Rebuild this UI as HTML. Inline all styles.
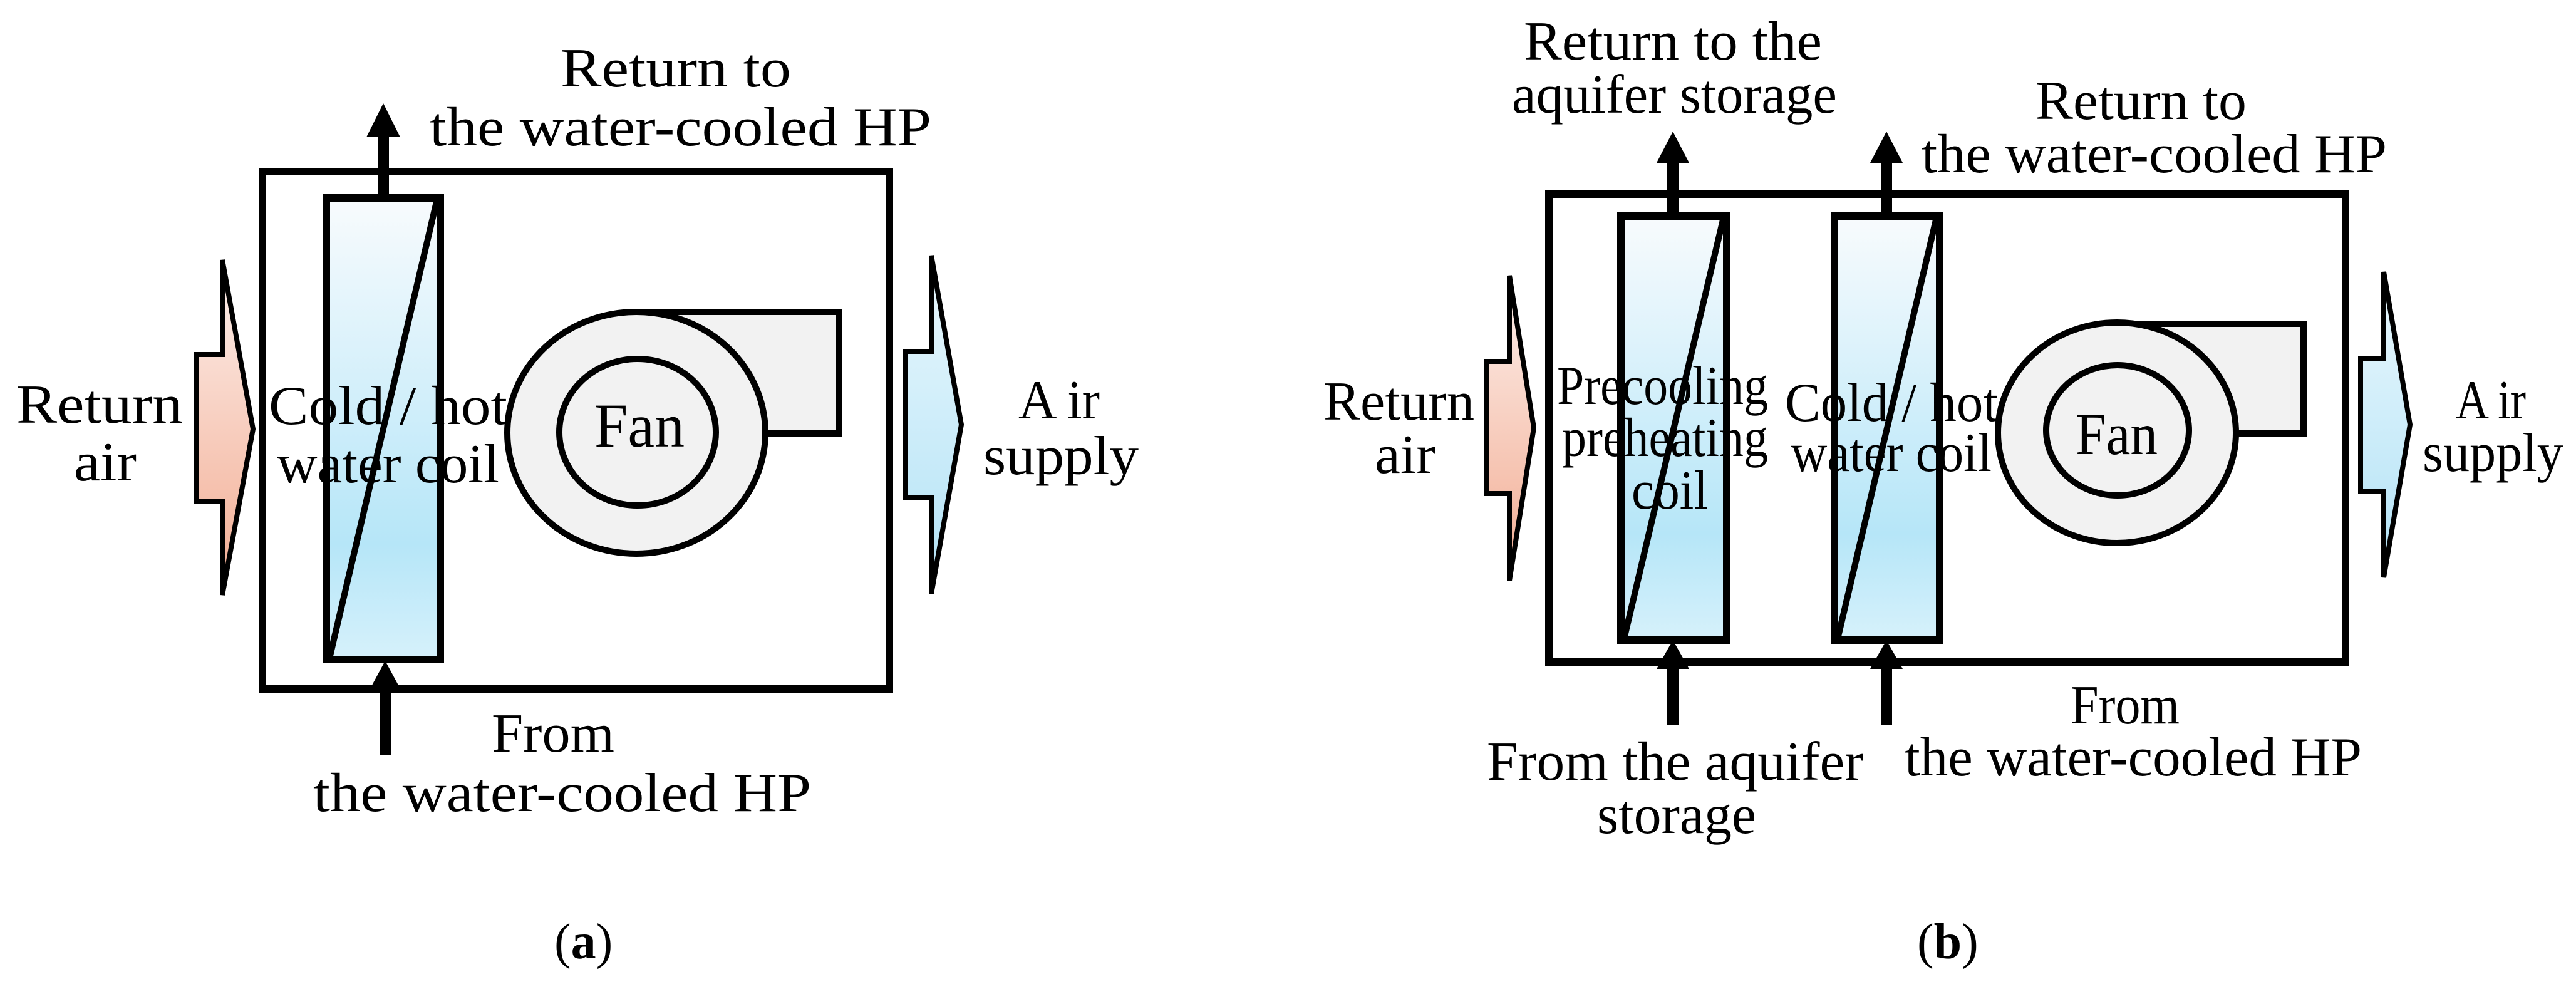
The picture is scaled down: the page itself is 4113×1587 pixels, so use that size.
<!DOCTYPE html>
<html><head><meta charset="utf-8"><style>html,body{margin:0;padding:0;background:#fff}svg{display:block}</style></head>
<body>
<svg width="4113" height="1587" viewBox="0 0 4113 1587" xmlns="http://www.w3.org/2000/svg" font-family="'Liberation Serif', serif" font-size="88" fill="#000">
<defs>
<linearGradient id="coil" x1="0" y1="0" x2="0" y2="1">
<stop offset="0" stop-color="#f8fbfd"/><stop offset="0.75" stop-color="#b6e6f8"/><stop offset="1" stop-color="#d6f1fb"/></linearGradient>
<linearGradient id="red" x1="0" y1="0" x2="0" y2="1">
<stop offset="0" stop-color="#fdf0ec"/><stop offset="1" stop-color="#f2ac92"/></linearGradient>
<linearGradient id="blue" x1="0" y1="0" x2="0" y2="1">
<stop offset="0" stop-color="#eaf8fd"/><stop offset="1" stop-color="#b2e2f6"/></linearGradient>
</defs>

<!-- ===== (a) ===== -->
<rect x="419" y="274" width="1001" height="826" fill="none" stroke="#000" stroke-width="12"/>
<rect x="521" y="316" width="182" height="737" fill="url(#coil)" stroke="#000" stroke-width="12"/>
<line x1="697" y1="322" x2="527" y2="1047" stroke="#000" stroke-width="10"/>
<line x1="612" y1="316" x2="612" y2="210" stroke="#000" stroke-width="18"/>
<polygon points="612,165 585,219 639,219"/>
<line x1="615" y1="1205" x2="615" y2="1095" stroke="#000" stroke-width="18"/>
<polygon points="615,1055 588,1105 642,1105"/>
<rect x="1016" y="498" width="324" height="194" fill="#f2f2f2" stroke="#000" stroke-width="10"/>
<ellipse cx="1016" cy="691" rx="206" ry="193" fill="#f2f2f2" stroke="#000" stroke-width="10"/>
<ellipse cx="1018" cy="690" rx="125" ry="117" fill="#f2f2f2" stroke="#000" stroke-width="10"/>
<polygon points="313,566 355,566 355,415 404,685 355,950 355,800 313,800" fill="url(#red)" stroke="#000" stroke-width="8"/>
<polygon points="1446,561 1487,561 1487,408 1535,678 1487,948 1487,795 1446,795" fill="url(#blue)" stroke="#000" stroke-width="8"/>

<text x="895" y="138" textLength="368" lengthAdjust="spacingAndGlyphs">Return to</text>
<text x="686" y="232" textLength="801" lengthAdjust="spacingAndGlyphs">the water-cooled HP</text>
<text x="26" y="675" textLength="266" lengthAdjust="spacingAndGlyphs">Return</text>
<text x="118" y="767" textLength="100" lengthAdjust="spacingAndGlyphs">air</text>
<text x="429" y="677" textLength="381" lengthAdjust="spacingAndGlyphs">Cold / hot</text>
<text x="442" y="770" textLength="355" lengthAdjust="spacingAndGlyphs">water coil</text>
<text x="949" y="713" font-size="100" textLength="144" lengthAdjust="spacingAndGlyphs">Fan</text>
<text x="1626" y="668" textLength="130" lengthAdjust="spacingAndGlyphs">A ir</text>
<text x="1570" y="757" textLength="248" lengthAdjust="spacingAndGlyphs">supply</text>
<text x="785" y="1200" textLength="196" lengthAdjust="spacingAndGlyphs">From</text>
<text x="500" y="1295" textLength="795" lengthAdjust="spacingAndGlyphs">the water-cooled HP</text>
<text x="885" y="1530" font-size="80">(<tspan font-weight="bold">a</tspan>)</text>

<!-- ===== (b) ===== -->
<rect x="2473" y="310" width="1272" height="747" fill="none" stroke="#000" stroke-width="12"/>
<rect x="2588" y="345" width="169" height="677" fill="url(#coil)" stroke="#000" stroke-width="12"/>
<line x1="2751" y1="351" x2="2594" y2="1016" stroke="#000" stroke-width="10"/>
<rect x="2929" y="345" width="168" height="677" fill="url(#coil)" stroke="#000" stroke-width="12"/>
<line x1="3091" y1="351" x2="2935" y2="1016" stroke="#000" stroke-width="10"/>
<line x1="2671" y1="345" x2="2671" y2="250" stroke="#000" stroke-width="18"/>
<polygon points="2671,210 2645,260 2697,260"/>
<line x1="3012" y1="345" x2="3012" y2="250" stroke="#000" stroke-width="18"/>
<polygon points="3012,210 2986,260 3038,260"/>
<line x1="2671" y1="1158" x2="2671" y2="1060" stroke="#000" stroke-width="18"/>
<polygon points="2671,1022 2645,1068 2697,1068"/>
<line x1="3012" y1="1158" x2="3012" y2="1060" stroke="#000" stroke-width="18"/>
<polygon points="3012,1022 2986,1068 3038,1068"/>
<rect x="3380" y="517" width="298" height="175" fill="#f2f2f2" stroke="#000" stroke-width="10"/>
<ellipse cx="3380" cy="691" rx="190" ry="176" fill="#f2f2f2" stroke="#000" stroke-width="10"/>
<ellipse cx="3381" cy="687" rx="114" ry="104" fill="#f2f2f2" stroke="#000" stroke-width="10"/>
<polygon points="2373,577 2410,577 2410,440 2449,683 2410,927 2410,788 2373,788" fill="url(#red)" stroke="#000" stroke-width="8"/>
<polygon points="3769,573 3806,573 3806,434 3848,678 3806,922 3806,785 3769,785" fill="url(#blue)" stroke="#000" stroke-width="8"/>

<text x="2433" y="95" textLength="476" lengthAdjust="spacingAndGlyphs">Return to the</text>
<text x="2414" y="180" textLength="519" lengthAdjust="spacingAndGlyphs">aquifer storage</text>
<text x="3250" y="190" textLength="337" lengthAdjust="spacingAndGlyphs">Return to</text>
<text x="3068" y="275" textLength="743" lengthAdjust="spacingAndGlyphs">the water-cooled HP</text>
<text x="2113" y="670" textLength="241" lengthAdjust="spacingAndGlyphs">Return</text>
<text x="2195" y="755" textLength="97" lengthAdjust="spacingAndGlyphs">air</text>
<text x="2486" y="645" textLength="337" lengthAdjust="spacingAndGlyphs">Precooling</text>
<text x="2494" y="728" textLength="329" lengthAdjust="spacingAndGlyphs">preheating</text>
<text x="2605" y="812" textLength="122" lengthAdjust="spacingAndGlyphs">coil</text>
<text x="2850" y="672" textLength="340" lengthAdjust="spacingAndGlyphs">Cold / hot</text>
<text x="2859" y="752" textLength="321" lengthAdjust="spacingAndGlyphs">water coil</text>
<text x="3314" y="725" font-size="95" textLength="131" lengthAdjust="spacingAndGlyphs">Fan</text>
<text x="3921" y="668" textLength="112" lengthAdjust="spacingAndGlyphs">A ir</text>
<text x="3868" y="752" textLength="225" lengthAdjust="spacingAndGlyphs">supply</text>
<text x="2374" y="1245" textLength="601" lengthAdjust="spacingAndGlyphs">From the aquifer</text>
<text x="2550" y="1330" textLength="254" lengthAdjust="spacingAndGlyphs">storage</text>
<text x="3306" y="1155" textLength="174" lengthAdjust="spacingAndGlyphs">From</text>
<text x="3041" y="1238" textLength="730" lengthAdjust="spacingAndGlyphs">the water-cooled HP</text>
<text x="3061" y="1530" font-size="80">(<tspan font-weight="bold">b</tspan>)</text>
</svg>
</body></html>
